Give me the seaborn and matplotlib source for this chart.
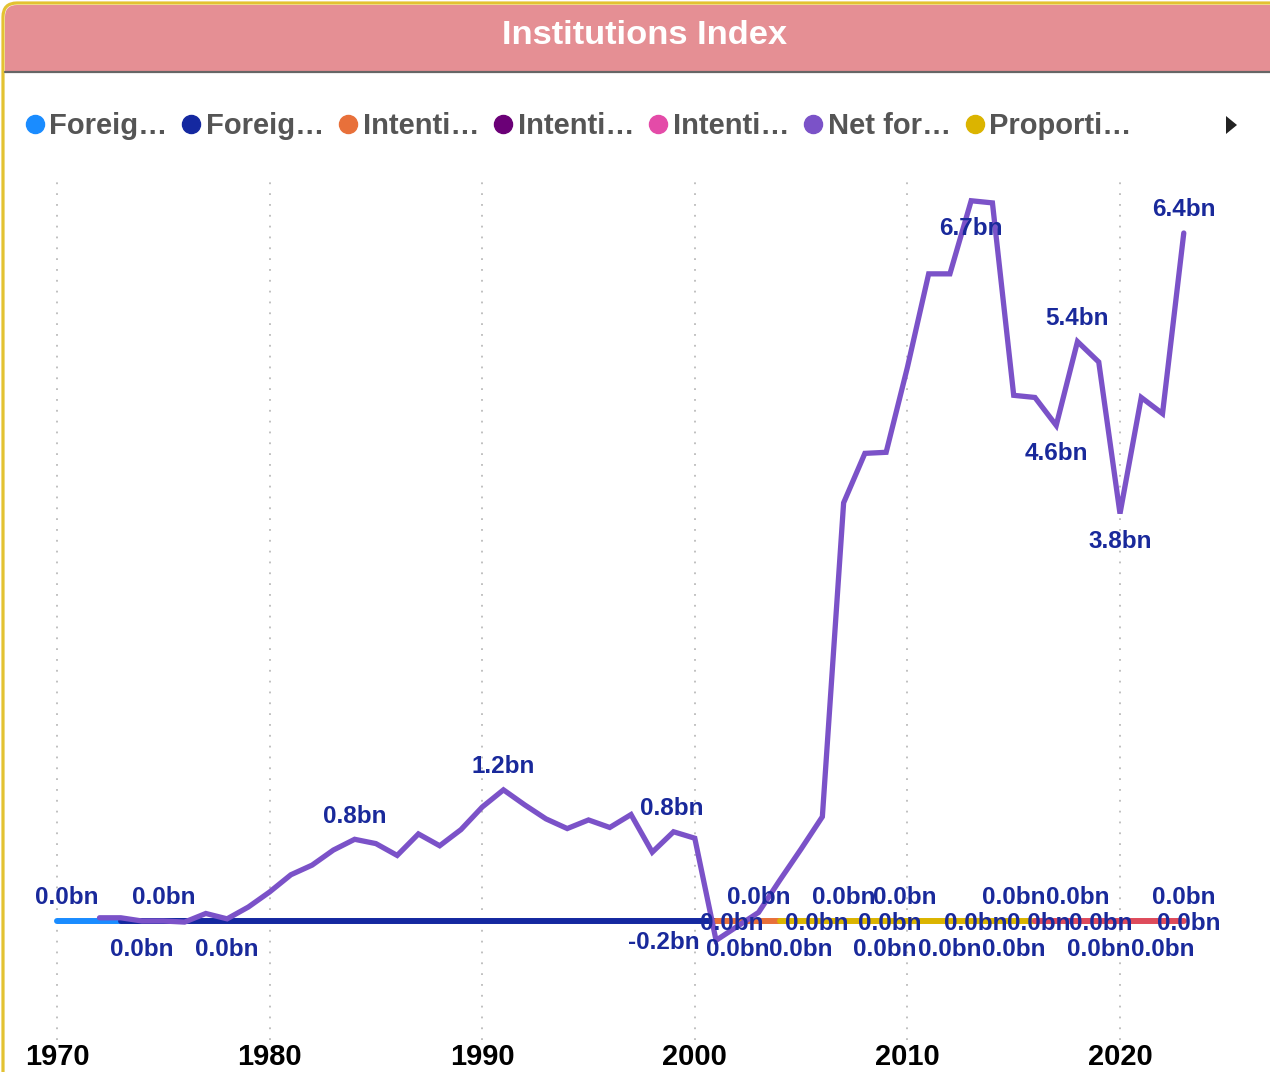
import seaborn as sns
import matplotlib.pyplot as plt
import pandas as pd
import numpy as np
from matplotlib.lines import Line2D
from matplotlib.patches import FancyBboxPatch, Rectangle, Polygon
from matplotlib.transforms import IdentityTransform

W, H = 1270, 1072

# ---- data ----
legend_labels = ["Foreig…", "Foreig…", "Intenti…", "Intenti…", "Intenti…", "Net for…", "Proporti…"]
legend_colors = ["#1a8cff", "#1428a0", "#e8703a", "#6b0077", "#e44ba8", "#7b52c8", "#dbb400"]

light_blue_years = [1970, 1971, 1972, 1973]
light_blue_vals = [0.0, 0.0, 0.0, 0.0]

dark_blue_years = list(range(1973, 2002))
dark_blue_vals = [0.0, 0.0, 0.0, 0.0, 0.0, 0.0, 0.0, 0.0, 0.0, 0.0,
                  0.0, 0.0, 0.0, 0.0, 0.0, 0.0, 0.0, 0.0, 0.0, 0.0,
                  0.0, 0.0, 0.0, 0.0, 0.0, 0.0, 0.0, 0.0, 0.0]

orange_years = [2001, 2002, 2003, 2004]
orange_vals = [0.0, 0.0, 0.0, 0.0]

yellow_years = list(range(2004, 2017))
yellow_vals = [0.0, 0.0, 0.0, 0.0, 0.0, 0.0, 0.0, 0.0, 0.0, 0.0, 0.0, 0.0, 0.0]

red_years = list(range(2016, 2024))
red_vals = [0.0, 0.0, 0.0, 0.0, 0.0, 0.0, 0.0, 0.0]

net_years = list(range(1972, 2024))
net_vals = [0.03, 0.03, 0.00, 0.00, -0.01, 0.07, 0.02, 0.13, 0.27, 0.43,
            0.52, 0.66, 0.76, 0.72, 0.61, 0.81, 0.70, 0.85, 1.06, 1.22,
            1.08, 0.95, 0.86, 0.94, 0.87, 0.99, 0.64, 0.83, 0.77, -0.18,
            -0.05, 0.08, 0.38, 0.67, 0.97, 3.89, 4.35, 4.36, 5.15, 6.02,
            6.02, 6.70, 6.68, 4.89, 4.87, 4.61, 5.39, 5.20, 3.79, 4.87,
            4.72, 6.40]

series = {
    "lightblue": (light_blue_years, light_blue_vals, "#1a8cff", 4.3),
    "darkblue": (dark_blue_years, dark_blue_vals, "#1428a0", 4.3),
    "orange": (orange_years, orange_vals, "#e8703a", 4.3),
    "yellow": (yellow_years, yellow_vals, "#dbb400", 4.3),
    "red": (red_years, red_vals, "#de4b5b", 4.3),
    "net": (net_years, net_vals, "#7b52c8", 3.8),
}

# data labels: (series, year, placement, x shift px)
value_labels = [
    ("lightblue", 1970, "above", 10),
    ("darkblue", 1975, "above", 0),
    ("darkblue", 1974, "below", 0),
    ("darkblue", 1978, "below", 0),
    ("orange", 2003, "above", 0),
    ("yellow", 2007, "above", 0),
    ("yellow", 2010, "above", -3),
    ("yellow", 2015, "above", 0),
    ("red", 2018, "above", 0),
    ("red", 2023, "above", 0),
    ("orange", 2002, "center", -6),
    ("yellow", 2006, "center", -6),
    ("yellow", 2009, "center", 4),
    ("yellow", 2013, "center", 5),
    ("red", 2016, "center", 4),
    ("red", 2019, "center", 2),
    ("red", 2023, "center", 5),
    ("orange", 2002, "below", 0),
    ("yellow", 2005, "below", 0),
    ("yellow", 2009, "below", -1),
    ("yellow", 2012, "below", 0),
    ("yellow", 2015, "below", 0),
    ("red", 2019, "below", 0),
    ("red", 2022, "below", 0),
    ("net", 1984, "above", 0),
    ("net", 1991, "above", 0),
    ("net", 1999, "above", -2),
    ("net", 2001, "left", 0),
    ("net", 2013, "below", 0),
    ("net", 2018, "above", 0),
    ("net", 2017, "below", 0),
    ("net", 2020, "below", 0),
    ("net", 2023, "above", 0),
]

# ---- styling ----
sns.set_theme(style="white")
plt.rcParams["font.family"] = ["Liberation Sans", "DejaVu Sans"]

fig = plt.figure(figsize=(W / 100, H / 100), dpi=100)
fig.patch.set_facecolor("white")

# card frame and header
frame = FancyBboxPatch((3, -40), 1320, H - 3 + 40, boxstyle="round,pad=0,rounding_size=14",
                       transform=IdentityTransform(), facecolor="white", edgecolor="#e3c232",
                       linewidth=2.3, zorder=-3)
fig.add_artist(frame)
header = FancyBboxPatch((5, H - 72), 1320, 67, boxstyle="round,pad=0,rounding_size=12",
                        transform=IdentityTransform(), facecolor="#e58f94", edgecolor="none", zorder=-2)
fig.add_artist(header)
fig.add_artist(Rectangle((5, H - 72), 1320, 30, transform=IdentityTransform(),
                         facecolor="#e58f94", edgecolor="none", zorder=-2))
fig.add_artist(Line2D([5, W], [H - 72, H - 72], transform=IdentityTransform(),
                      color="#666666", linewidth=1.6, zorder=-1))
fig.text(645 / W, 1 - 36 / H, "Institutions Index", color="white", fontsize=24.8,
         fontweight="bold", ha="center", va="center")

# legend
handles = [Line2D([], [], marker="o", linestyle="", markersize=13, color=c) for c in legend_colors]
fig.legend(handles, legend_labels, loc="center left", bbox_to_anchor=(26 / W, 1 - 126 / H),
           ncol=7, frameon=False, handlelength=0.6, handletextpad=0.2, columnspacing=0.52,
           borderpad=0, borderaxespad=0, prop={"size": 21, "weight": "bold"}, labelcolor="#555555")
fig.add_artist(Polygon([(1226, H - 116), (1226, H - 134), (1237, H - 125)], closed=True,
                       transform=IdentityTransform(), facecolor="#222222", edgecolor="none"))

# plot area
ax = fig.add_axes([0, 1 - 1040 / H, 1, (1040 - 180) / H])
ax.patch.set_visible(False)

for name, (yrs, vals, col, lw) in series.items():
    df = pd.DataFrame({"year": yrs, "value": vals})
    sns.lineplot(data=df, x="year", y="value", ax=ax, color=col, linewidth=lw,
                 solid_capstyle="round", solid_joinstyle="miter", legend=False,
                 zorder=3 if name == "net" else 2)

offsets = {"above": (0, 23), "below": (0, -28), "center": (0, -2), "left": (-16, -2)}
for name, yr, place, dx in value_labels:
    yrs, vals = series[name][0], series[name][1]
    v = vals[yrs.index(yr)]
    ox, oy = offsets[place]
    ax.annotate(f"{v:.1f}bn", (yr, v), xytext=(ox + dx, oy), textcoords="offset pixels",
                ha="right" if place == "left" else "center", va="center",
                fontsize=17.5, fontweight="bold", color="#19299b", zorder=5)

px_per_year = (1120 - 57) / 50
ax.set_xlim(1970 - 57 / px_per_year, 1970 + (W - 57) / px_per_year)
ax.set_ylim((921 - 1040) / 107.5, (921 - 180) / 107.5)
ax.set_xticks([1970, 1980, 1990, 2000, 2010, 2020])
ax.set_yticks([])
ax.tick_params(axis="x", length=0, pad=2, labelsize=21, labelcolor="black")
for t in ax.get_xticklabels():
    t.set_fontweight("bold")
ax.grid(axis="x", linestyle=(0, (1, 5)), color="#bbbbbb", linewidth=1.3)
ax.set_xlabel("")
ax.set_ylabel("")
for s in ax.spines.values():
    s.set_visible(False)

fig.savefig("out.png", dpi=100)
